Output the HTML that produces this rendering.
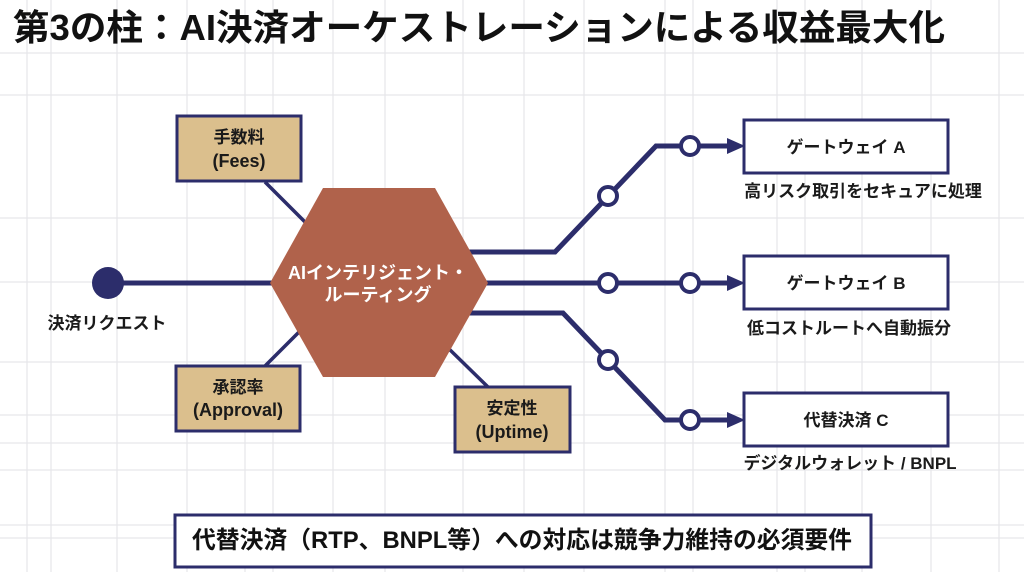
<!DOCTYPE html>
<html>
<head>
<meta charset="utf-8">
<style>
html,body{margin:0;padding:0;background:#fff;}
body{width:1024px;height:572px;overflow:hidden;}
svg{display:block;}
text{font-family:"Liberation Sans","Noto Sans CJK JP",sans-serif;font-weight:bold;}
</style>
</head>
<body>
<svg width="1024" height="572" viewBox="0 0 1024 572" xmlns="http://www.w3.org/2000/svg">
  <rect x="0" y="0" width="1024" height="572" fill="#ffffff"/>
  <!-- grid -->
  <g stroke="#e6e6ea" stroke-width="1.2">
    <line x1="27" y1="0" x2="27" y2="572"/>
    <line x1="51" y1="0" x2="51" y2="572"/>
    <line x1="117" y1="0" x2="117" y2="572"/>
    <line x1="187" y1="0" x2="187" y2="572"/>
    <line x1="245" y1="0" x2="245" y2="572"/>
    <line x1="273" y1="0" x2="273" y2="572"/>
    <line x1="333" y1="0" x2="333" y2="572"/>
    <line x1="385" y1="0" x2="385" y2="572"/>
    <line x1="463" y1="0" x2="463" y2="572"/>
    <line x1="524" y1="0" x2="524" y2="572"/>
    <line x1="584" y1="0" x2="584" y2="572"/>
    <line x1="665" y1="0" x2="665" y2="572"/>
    <line x1="693" y1="0" x2="693" y2="572"/>
    <line x1="777" y1="0" x2="777" y2="572"/>
    <line x1="805" y1="0" x2="805" y2="572"/>
    <line x1="862" y1="0" x2="862" y2="572"/>
    <line x1="931" y1="0" x2="931" y2="572"/>
    <line x1="999" y1="0" x2="999" y2="572"/>
    <line x1="0" y1="53" x2="1024" y2="53"/>
    <line x1="0" y1="95" x2="1024" y2="95"/>
    <line x1="0" y1="218" x2="1024" y2="218"/>
    <line x1="0" y1="282" x2="1024" y2="282"/>
    <line x1="0" y1="362" x2="1024" y2="362"/>
    <line x1="0" y1="415" x2="1024" y2="415"/>
    <line x1="0" y1="443" x2="1024" y2="443"/>
    <line x1="0" y1="470" x2="1024" y2="470"/>
    <line x1="0" y1="525" x2="1024" y2="525"/>
    <line x1="0" y1="538" x2="1024" y2="538"/>
  </g>

  <!-- title -->
  <text x="13" y="40" font-size="36" fill="#111" textLength="932" lengthAdjust="spacingAndGlyphs">第3の柱：AI決済オーケストレーションによる収益最大化</text>

  <!-- connectors to criteria boxes -->
  <g stroke="#2c2d6b" stroke-width="3.5" fill="none">
    <line x1="265" y1="182" x2="310" y2="227"/>
    <line x1="265" y1="366" x2="303" y2="328"/>
    <line x1="445" y1="345" x2="488" y2="387"/>
  </g>

  <!-- routing paths -->
  <g stroke="#2c2d6b" stroke-width="5" fill="none" stroke-linejoin="miter">
    <path d="M440,252 H555 L656,146 H730"/>
    <path d="M440,283 H730"/>
    <path d="M440,313 H563 L665,420 H730"/>
    <line x1="100" y1="283" x2="290" y2="283"/>
  </g>
  <g fill="#2c2d6b">
    <polygon points="727,138 745,146 727,154"/>
    <polygon points="727,275 745,283 727,291"/>
    <polygon points="727,412 745,420 727,428"/>
    <circle cx="108" cy="283" r="16"/>
  </g>
  <g fill="#ffffff" stroke="#2c2d6b" stroke-width="4">
    <circle cx="608" cy="196" r="9"/>
    <circle cx="690" cy="146" r="9"/>
    <circle cx="608" cy="283" r="9"/>
    <circle cx="690" cy="283" r="9"/>
    <circle cx="608" cy="360" r="9"/>
    <circle cx="690" cy="420" r="9"/>
  </g>

  <!-- hexagon -->
  <polygon points="323,188 435,188 488,283 435,377 323,377 270,283" fill="#b0624b"/>
  <text x="378" y="279" font-size="18" fill="#ffffff" text-anchor="middle">AIインテリジェント・</text>
  <text x="378" y="301" font-size="18" fill="#ffffff" text-anchor="middle">ルーティング</text>

  <!-- criteria boxes -->
  <g fill="#dbbf8d" stroke="#2c2d6b" stroke-width="3">
    <rect x="177" y="116" width="124" height="65"/>
    <rect x="176" y="366" width="124" height="65"/>
    <rect x="455" y="387" width="115" height="65"/>
  </g>
  <g fill="#1a1a1a" text-anchor="middle" font-size="17">
    <text x="239" y="143">手数料</text>
    <text x="239" y="167" font-size="18">(Fees)</text>
    <text x="238" y="393">承認率</text>
    <text x="238" y="416" font-size="18">(Approval)</text>
    <text x="512" y="414">安定性</text>
    <text x="512" y="438" font-size="18">(Uptime)</text>
  </g>

  <!-- input label -->
  <text x="107" y="329" font-size="17" fill="#1a1a1a" text-anchor="middle">決済リクエスト</text>

  <!-- gateway boxes -->
  <g fill="#ffffff" stroke="#2c2d6b" stroke-width="3">
    <rect x="744" y="120" width="204" height="53"/>
    <rect x="744" y="256" width="204" height="53"/>
    <rect x="744" y="393" width="204" height="53"/>
  </g>
  <g fill="#1a1a1a" text-anchor="middle" font-size="17">
    <text x="846" y="153">ゲートウェイ A</text>
    <text x="846" y="289">ゲートウェイ B</text>
    <text x="846" y="426">代替決済 C</text>
    <text x="863" y="197">高リスク取引をセキュアに処理</text>
    <text x="849" y="334">低コストルートへ自動振分</text>
    <text x="850" y="469">デジタルウォレット / BNPL</text>
  </g>

  <!-- bottom banner -->
  <rect x="175" y="515" width="696" height="52" fill="#ffffff" stroke="#2c2d6b" stroke-width="3"/>
  <text x="192" y="548" font-size="24" fill="#111" textLength="660" lengthAdjust="spacingAndGlyphs">代替決済（RTP、BNPL等）への対応は競争力維持の必須要件</text>
</svg>
</body>
</html>
